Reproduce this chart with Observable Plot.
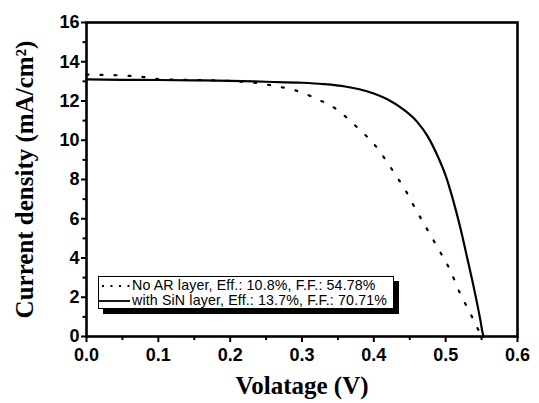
<!DOCTYPE html>
<html><head><meta charset="utf-8">
<script src="https://cdn.jsdelivr.net/npm/d3@7"></script>
<script src="https://cdn.jsdelivr.net/npm/@observablehq/plot@0.6"></script>
<style>
body{margin:0;background:#fff;}
#wrap{position:relative;width:539px;height:403px;}
#wrap svg{font-family:"Liberation Sans",Arial,sans-serif;}
g[aria-label="x-axis label"] text, g[aria-label="y-axis label"] text{font-family:"Liberation Serif","Times New Roman",serif;font-weight:bold;font-size:25px;}
.legend{position:absolute;left:98px;top:276px;width:294px;height:30px;padding-top:1px;border:1.5px solid #000;background:#fff;box-shadow:5px 5px 0 #000;font:14.2px "Liberation Sans",Arial,sans-serif;color:#000;}
.row{display:flex;align-items:center;height:15px;white-space:nowrap;}
.row svg{flex:none;}
.row span{display:inline-block;line-height:15px;height:15px;overflow:visible;letter-spacing:0.15px;}
</style>
</head><body>
<div id="wrap"></div>
<script>
const voltageTicks = [0, 0.1, 0.2, 0.3, 0.4, 0.5, 0.6];
const voltageMinor = [0.05, 0.15, 0.25, 0.35, 0.45, 0.55];
const currentTicks = [0, 2, 4, 6, 8, 10, 12, 14, 16];
const currentMinor = [1, 3, 5, 7, 9, 11, 13, 15];

const seriesNames = ["No AR layer, Eff.: 10.8%, F.F.: 54.78%", "with SiN layer, Eff.: 13.7%, F.F.: 70.71%"];

const noArV = [0, 0.02, 0.05, 0.075, 0.10, 0.15, 0.20, 0.24, 0.266, 0.288, 0.308, 0.325, 0.340, 0.352, 0.369, 0.384, 0.398, 0.410, 0.420, 0.434, 0.443, 0.455, 0.476, 0.492, 0.506, 0.520, 0.534, 0.548, 0.550];
const noArJ = [13.35, 13.33, 13.30, 13.24, 13.12, 13.07, 13.02, 12.90, 12.74, 12.57, 12.31, 12.03, 11.77, 11.47, 10.92, 10.41, 9.90, 9.34, 8.80, 8.03, 7.52, 6.70, 5.35, 4.33, 3.40, 2.20, 1.20, 0.15, 0];

const sinV = [0, 0.05, 0.10, 0.15, 0.20, 0.25, 0.30, 0.33, 0.36, 0.38, 0.40, 0.42, 0.44, 0.46, 0.475, 0.49, 0.50, 0.51, 0.52, 0.53, 0.54, 0.548, 0.552, 0.553];
const sinJ = [13.10, 13.08, 13.07, 13.05, 13.03, 12.98, 12.93, 12.86, 12.74, 12.60, 12.38, 12.06, 11.60, 10.95, 10.20, 9.10, 8.20, 7.00, 5.60, 4.00, 2.35, 0.90, 0.10, 0];

const noAr = noArV.map((v, i) => ({v, j: noArJ[i]}));
const sin = sinV.map((v, i) => ({v, j: sinJ[i]}));

const chart = Plot.plot({
  width: 539, height: 403,
  marginLeft: 86, marginRight: 22, marginTop: 22, marginBottom: 67,
  x: {domain: [0, 0.6]},
  y: {domain: [0, 16]},
  style: {background: "white", color: "black", fontFamily: "Liberation Sans, Arial, sans-serif"},
  marks: [
    Plot.line(noAr, {x: "v", y: "j", stroke: "black", strokeWidth: 2.2, strokeDasharray: "2,12", curve: "monotone-x"}),
    Plot.line(sin, {x: "v", y: "j", stroke: "black", strokeWidth: 2.2, curve: "monotone-x"}),
    Plot.axisX(voltageMinor, {tickSize: 4, tickFormat: () => "", label: null, strokeWidth: 2}),
    Plot.axisX(voltageTicks, {tickSize: 6, tickPadding: 6, tickFormat: d3.format(".1f"), fontSize: 18, fontWeight: "bold", strokeWidth: 2,
      label: "Volatage (V)", labelAnchor: "center", labelOffset: 57, labelArrow: "none"}),
    Plot.axisY(currentMinor, {tickSize: 3.5, tickFormat: () => "", label: null, strokeWidth: 2}),
    Plot.axisY(currentTicks, {tickSize: 5, tickPadding: 2, fontSize: 18, fontWeight: "bold", strokeWidth: 2,
      label: "Current density (mA/cm²)", labelAnchor: "center", labelOffset: 71, labelArrow: "none"}),
    Plot.frame({stroke: "black", strokeWidth: 2.6})
  ]
});
const wrap = document.getElementById("wrap");
wrap.appendChild(chart);

const legend = document.createElement("div");
legend.className = "legend";
const dashes = ["2,6.5", null];
seriesNames.forEach((name, i) => {
  const row = document.createElement("div");
  row.className = "row";
  const ns = "http://www.w3.org/2000/svg";
  const s = document.createElementNS(ns, "svg");
  s.setAttribute("width", "33"); s.setAttribute("height", "14");
  const ln = document.createElementNS(ns, "line");
  ln.setAttribute("x1", i === 0 ? "3" : "0"); ln.setAttribute("x2", "31");
  ln.setAttribute("y1", "7"); ln.setAttribute("y2", "7");
  ln.setAttribute("stroke", "#000"); ln.setAttribute("stroke-width", i === 0 ? "2" : "1.8");
  if (dashes[i]) ln.setAttribute("stroke-dasharray", dashes[i]);
  s.appendChild(ln);
  const t = document.createElement("span");
  t.textContent = name;
  row.appendChild(s); row.appendChild(t);
  legend.appendChild(row);
});
wrap.appendChild(legend);
</script>
</body></html>
